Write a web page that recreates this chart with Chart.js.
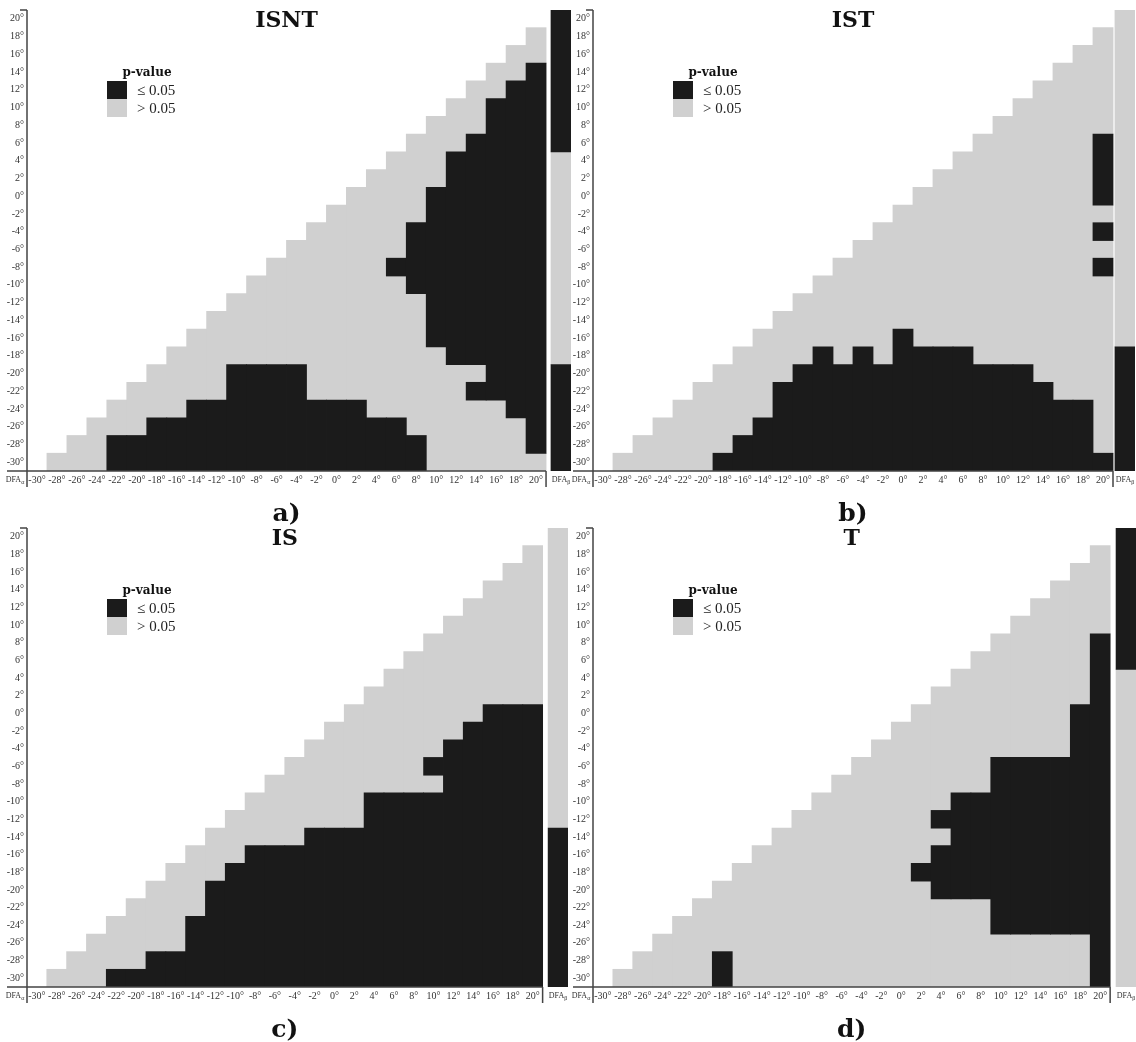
<!DOCTYPE html>
<html>
<head>
<meta charset="utf-8">
<script src="https://cdn.jsdelivr.net/npm/chart.js@4.4.1/dist/chart.umd.min.js"></script>
<style>
  body { margin: 0; background: #fff; width: 1136px; height: 1042px; position: relative; overflow: hidden; }
  canvas { position: absolute; }
  .c { position: absolute; transform: translate(-50%, -50%); white-space: nowrap; line-height: 1; }
  .l { position: absolute; transform: translate(0, -50%); white-space: nowrap; line-height: 1; }
  .title { font: bold 22px 'DejaVu Serif', serif; color: #111; }
  .sub { font: bold 25px 'DejaVu Serif', serif; color: #111; }
  .lgh { font: bold 12px 'DejaVu Serif', serif; color: #111; }
  .lgt { font: 15px 'Liberation Serif', serif; color: #222; }
  .dfa { font: 8px 'Liberation Serif', serif; color: #333; }
  .dfa sub { font-size: 6px; vertical-align: -2px; }
  .box { position: absolute; width: 20px; height: 18px; }
</style>
</head>
<body>
<canvas id="pa"></canvas>
<canvas id="pb"></canvas>
<canvas id="pc"></canvas>
<canvas id="pd"></canvas>
<script>
// DFA_alpha columns and DFA_beta rows (degrees)
const alphaTicks = [-30, -28, -26, -24, -22, -20, -18, -16, -14, -12, -10, -8, -6, -4, -2, 0, 2, 4, 6, 8, 10, 12, 14, 16, 18, 20];
const betaTicks = [20, 18, 16, 14, 12, 10, 8, 6, 4, 2, 0, -2, -4, -6, -8, -10, -12, -14, -16, -18, -20, -22, -24, -26, -28, -30];

// rows from 20° down to -30°; cells of each row run up to the 20° column
// x = p <= 0.05, o = p > 0.05 (run-length coded)
const isntRows = ['', '1o', '2o', '2o1x', '2o2x', '2o3x', '3o3x', '3o4x', '3o5x', '4o5x', '4o6x', '5o6x', '5o7x',
  '6o7x', '6o8x', '8o7x', '10o6x', '11o6x', '12o6x', '14o5x', '4o4x9o3x', '5o4x8o4x', '4o9x7o2x', '3o13x6o1x',
  '2o16x5o1x', '3o16x6o'];
const isntBeta = '8x12o6x';

const istRows = ['', '1o', '2o', '3o', '4o', '5o', '6o', '6o1x', '7o1x', '8o1x', '9o1x', '11o', '11o1x',
  '13o', '13o1x', '15o', '16o', '17o', '7o1x10o', '4o1x1o1x1o4x7o', '4o12x4o', '4o14x3o', '5o16x1o', '5o17x1o',
  '5o18x1o', '5o20x'];
const istBeta = '19o7x';

const isRows = ['', '1o', '2o', '3o', '4o', '5o', '6o', '7o', '8o', '9o', '7o3x', '7o4x', '7o5x',
  '7o6x', '9o5x', '6o9x', '7o9x', '5o12x', '3o15x', '3o16x', '3o17x', '4o17x', '4o18x', '5o18x',
  '4o20x', '3o22x'];
const isBeta = '17o9x';

const tRows = ['', '1o', '2o', '3o', '4o', '5o', '5o1x', '6o1x', '7o1x', '8o1x', '8o2x', '9o2x', '10o2x',
  '7o6x', '8o6x', '7o8x', '7o9x', '9o8x', '9o9x', '9o10x', '11o9x', '15o6x', '16o6x', '22o1x',
  '4o1x18o1x', '5o1x18o1x'];
const tBeta = '8x18o';

const DARK = '#1b1b1b';
const LIGHT = '#d0d0d0';

const panels = [
  { id: 'pa', tag: 'a)', title: 'ISNT', rows: isntRows, beta: isntBeta, left: 0, top: 0, w: 571, h: 500, sideX: 22.5 },
  { id: 'pb', tag: 'b)', title: 'IST', rows: istRows, beta: istBeta, left: 566, top: 0, w: 569, h: 500, sideX: 22.2 },
  { id: 'pc', tag: 'c)', title: 'IS', rows: isRows, beta: isBeta, left: 0, top: 518, w: 568, h: 498, sideX: 22.56 },
  { id: 'pd', tag: 'd)', title: 'T', rows: tRows, beta: tBeta, left: 566, top: 518, w: 570, h: 498, sideX: 22.6 }
];

function expand(code) {
  const out = [];
  (code.match(/\d+[ox]/g) || []).forEach(t => {
    const n = parseInt(t, 10);
    for (let i = 0; i < n; i++) out.push(t.slice(-1));
  });
  return out;
}

// merge each column into vertical runs of the same class -> floating bars
function buildBars(rows, beta, sideX) {
  const grid = alphaTicks.map(() => betaTicks.map(() => '.'));
  rows.forEach((code, r) => {
    const cells = expand(code);
    const start = alphaTicks.length - cells.length;
    cells.forEach((s, k) => { grid[start + k][r] = s; });
  });
  const cols = alphaTicks.map((x, c) => ({ x, cells: grid[c] }));
  cols.push({ x: sideX, cells: expand(beta) });
  const sig = [], ns = [];
  cols.forEach(col => {
    let r = 0;
    while (r < betaTicks.length) {
      const s = col.cells[r];
      let e = r;
      while (e + 1 < betaTicks.length && col.cells[e + 1] === s) e++;
      if (s === 'x') sig.push({ x: col.x, y: [betaTicks[e] - 1, betaTicks[r] + 1] });
      if (s === 'o') ns.push({ x: col.x, y: [betaTicks[e] - 1, betaTicks[r] + 1] });
      r = e + 1;
    }
  });
  return { sig, ns };
}

const framePlugin = {
  id: 'frame',
  afterDraw(chart) {
    const { ctx, chartArea: a, scales: { x } } = chart;
    const gridRight = x.getPixelForValue(21);
    ctx.save();
    ctx.strokeStyle = '#444';
    ctx.lineWidth = 1.5;
    ctx.beginPath();
    ctx.moveTo(a.left, a.top); ctx.lineTo(a.left, a.bottom + 16);
    ctx.moveTo(a.left - 7, a.top); ctx.lineTo(a.left, a.top);
    ctx.moveTo(a.left - 20, a.bottom); ctx.lineTo(gridRight, a.bottom);
    ctx.moveTo(gridRight, a.bottom); ctx.lineTo(gridRight, a.bottom + 16);
    ctx.stroke();
    ctx.restore();
  }
};

function addDiv(cls, html, x, y, bg) {
  const d = document.createElement('div');
  d.className = cls;
  d.innerHTML = html;
  d.style.left = x + 'px';
  d.style.top = y + 'px';
  if (bg) d.style.background = bg;
  document.body.appendChild(d);
}

const tickFont = { family: 'Liberation Serif', size: 10 };

panels.forEach(p => {
  const cv = document.getElementById(p.id);
  cv.width = p.w; cv.height = p.h;
  cv.style.left = p.left + 'px'; cv.style.top = p.top + 'px';
  const bars = buildBars(p.rows, p.beta, p.sideX);

  const chart = new Chart(cv, {
    type: 'bar',
    data: {
      datasets: [
        { label: '≤ 0.05', data: bars.sig, backgroundColor: DARK },
        { label: '> 0.05', data: bars.ns, backgroundColor: LIGHT }
      ]
    },
    options: {
      responsive: false,
      animation: false,
      devicePixelRatio: 1,
      layout: { padding: { top: 10, left: 0, right: 0, bottom: 0 } },
      datasets: { bar: { barPercentage: 1, categoryPercentage: 1, grouped: false, borderWidth: 0, inflateAmount: 0.4 } },
      plugins: { legend: { display: false }, tooltip: { enabled: false } },
      scales: {
        x: {
          type: 'linear', min: -31, max: p.sideX + 1, offset: false,
          grid: { display: false, drawTicks: false, offset: false }, border: { display: false },
          afterBuildTicks: s => { s.ticks = alphaTicks.map(v => ({ value: v })); },
          afterFit: s => { s.height = 29; },
          ticks: { autoSkip: false, maxRotation: 0, minRotation: 0, padding: 3, font: tickFont, color: '#333', callback: v => v + '°' }
        },
        y: {
          type: 'linear', min: -31, max: 21, offset: false,
          grid: { display: false, drawTicks: false }, border: { display: false },
          afterBuildTicks: s => { s.ticks = betaTicks.map(v => ({ value: v })); },
          afterFit: s => { s.width = 27; },
          ticks: { autoSkip: false, padding: 3, font: tickFont, color: '#333', callback: v => v + '°' }
        }
      }
    },
    plugins: [framePlugin]
  });

  const a = chart.chartArea;
  const x = chart.scales.x;
  const L = p.left + a.left, T = p.top + a.top, B = p.top + a.bottom;
  const cx = p.left + (a.left + x.getPixelForValue(21)) / 2;
  addDiv('c title', p.title, cx, T + 9);
  addDiv('c sub', p.tag, cx, B + 41);
  addDiv('c lgh', 'p-value', L + 120, T + 62);
  addDiv('box', '', L + 80, T + 71, DARK);
  addDiv('box', '', L + 80, T + 89, LIGHT);
  addDiv('l lgt', '≤ 0.05', L + 110, T + 80);
  addDiv('l lgt', '&gt; 0.05', L + 110, T + 98);
  addDiv('c dfa', 'DFA<sub>α</sub>', L - 12, B + 9);
  addDiv('c dfa', 'DFA<sub>β</sub>', p.left + x.getPixelForValue(p.sideX), B + 9);
});
</script>
</body>
</html>
